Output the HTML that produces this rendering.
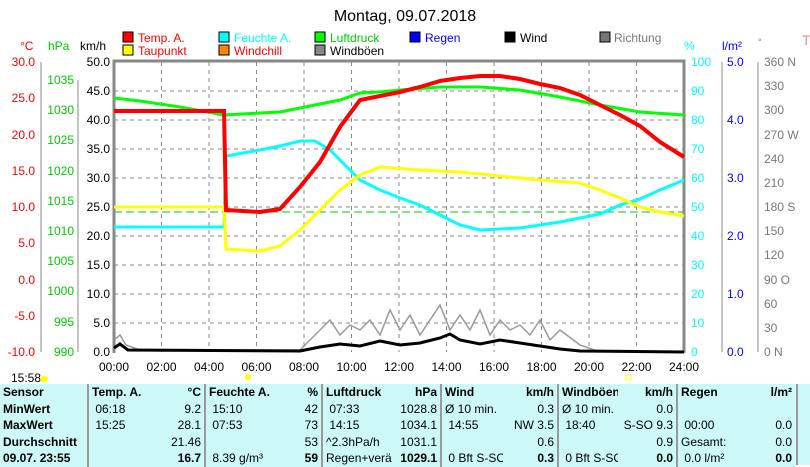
<!DOCTYPE html><html><head><style>
body{margin:0;width:810px;height:465px;background:#fff;overflow:hidden;font-family:"Liberation Sans",sans-serif;position:relative}
svg{position:absolute;left:0;top:0}
table{position:absolute;left:0;top:384px;width:795px;border-collapse:collapse;background:#ccf8f8;font-size:12px;table-layout:fixed}
td{padding:0 3px;height:16.5px;white-space:nowrap;overflow:hidden}
.b{font-weight:bold}.r{text-align:right}
.d{border-right:2px solid #999}
</style></head><body>
<svg width="810" height="465" font-family="Liberation Sans" font-size="12">
<text x="405" y="21" text-anchor="middle" font-size="16">Montag, 09.07.2018</text>
<g>
<rect x="123" y="32" width="10" height="10" fill="#f00" stroke="#000"/><text x="138" y="42" fill="#f00">Temp. A.</text>
<rect x="219" y="32" width="10" height="10" fill="#0ff" stroke="#000"/><text x="234" y="42" fill="#0ff">Feuchte A.</text>
<rect x="315" y="32" width="10" height="10" fill="#0f0" stroke="#000"/><text x="330" y="42" fill="#0c0">Luftdruck</text>
<rect x="410" y="32" width="10" height="10" fill="#00f" stroke="#000"/><text x="425" y="42" fill="#00f">Regen</text>
<rect x="505" y="32" width="10" height="10" fill="#000" stroke="#000"/><text x="520" y="42">Wind</text>
<rect x="600" y="32" width="10" height="10" fill="#777" stroke="#000"/><text x="614" y="42" fill="#777">Richtung</text>
<rect x="123" y="45" width="10" height="10" fill="#ff0" stroke="#000"/><text x="138" y="55" fill="#f00">Taupunkt</text>
<rect x="219" y="45" width="10" height="10" fill="#f80" stroke="#000"/><text x="234" y="55" fill="#f00">Windchill</text>
<rect x="315" y="45" width="10" height="10" fill="#888" stroke="#000"/><text x="330" y="55">Windböen</text>
</g>
<text x="20" y="50" fill="#f00">°C</text><text x="48" y="50" fill="#0c0">hPa</text><text x="80" y="50">km/h</text>
<text x="684" y="50" fill="#0ff">%</text><text x="722" y="50" fill="#00f">l/m²</text><text x="758" y="45" fill="#777" font-size="9">°</text>
<text x="802" y="45" fill="#f88" font-size="14">T</text>
<g stroke="#888" stroke-dasharray="4,4">
<path d="M161.5 62V352M209 62V352M256.5 62V352M304 62V352M351.5 62V352M399 62V352M446.5 62V352M494 62V352M541.5 62V352M589 62V352M636.5 62V352"/>
<path d="M114 91H684M114 120H684M114 149H684M114 178H684M114 207H684M114 236H684M114 265H684M114 294H684M114 323H684"/>
</g>
<path d="M114 212H684" stroke="#0c0" stroke-dasharray="8,4"/>
<path d="M114 353V61H684V353" fill="none" stroke="#888" stroke-width="3"/>
<g stroke="#888"><path d="M41 62V352M78 80V352M722 62V352M758 62V352"/></g>
<g fill="#f00" text-anchor="end">
<text x="35" y="66">30.0</text><text x="35" y="102">25.0</text><text x="35" y="139">20.0</text><text x="35" y="175">15.0</text><text x="35" y="211">10.0</text><text x="35" y="247">5.0</text><text x="35" y="284">0.0</text><text x="35" y="320">-5.0</text><text x="35" y="356">-10.0</text></g>
<g fill="#0c0" text-anchor="end">
<text x="74" y="84">1035</text><text x="74" y="114">1030</text><text x="74" y="144">1025</text><text x="74" y="175">1020</text><text x="74" y="205">1015</text><text x="74" y="235">1010</text><text x="74" y="265">1005</text><text x="74" y="295">1000</text><text x="74" y="326">995</text><text x="74" y="356">990</text></g>
<g text-anchor="end">
<text x="110" y="66">50.0</text><text x="110" y="95">45.0</text><text x="110" y="124">40.0</text><text x="110" y="153">35.0</text><text x="110" y="182">30.0</text><text x="110" y="211">25.0</text><text x="110" y="240">20.0</text><text x="110" y="269">15.0</text><text x="110" y="298">10.0</text><text x="110" y="327">5.0</text><text x="110" y="356">0.0</text></g>
<g fill="#0ff">
<text x="691" y="66">100</text><text x="691" y="95">90</text><text x="691" y="124">80</text><text x="691" y="153">70</text><text x="691" y="182">60</text><text x="691" y="211">50</text><text x="691" y="240">40</text><text x="691" y="269">30</text><text x="691" y="298">20</text><text x="691" y="327">10</text><text x="691" y="356">0</text></g>
<g fill="#00f"><text x="727" y="66">5.0</text><text x="727" y="124">4.0</text><text x="727" y="182">3.0</text><text x="727" y="240">2.0</text><text x="727" y="298">1.0</text><text x="727" y="356">0.0</text></g>
<g fill="#777"><text x="764" y="66">360 N</text><text x="764" y="90">330</text><text x="764" y="114">300</text><text x="764" y="139">270 W</text><text x="764" y="163">240</text><text x="764" y="187">210</text><text x="764" y="211">180 S</text><text x="764" y="235">150</text><text x="764" y="259">120</text><text x="764" y="284">90 O</text><text x="764" y="308">60</text><text x="764" y="332">30</text><text x="764" y="356">0 N</text></g>
<polyline fill="none" stroke="#999" stroke-width="1.5" points="114,340 120,335 126,345 140,350 300,350 310,340 320,330 330,320 340,335 350,325 360,330 370,320 380,335 390,310 400,330 410,315 420,335 430,320 440,305 450,330 460,315 470,330 480,310 490,335 500,320 510,330 520,325 530,335 540,320 550,340 560,330 580,345 600,352"/>
<polyline fill="none" stroke="#000" stroke-width="3" points="114,348 120,344 128,350 300,351 320,347 340,344 360,346 380,341 400,345 420,343 440,338 450,334 460,340 480,344 500,340 520,343 540,346 560,349 580,351 684,352"/>
<polyline fill="none" stroke="#0f0" stroke-width="3" points="114,98 140,101 180,107 224,115 260,113 280,112 300,108 340,100 360,93 380,92 400,90 440,87 480,87 520,90 560,97 600,105 640,112 684,115"/>
<polyline fill="none" stroke="#0ff" stroke-width="3" points="114,227 224,227 226,156 260,150 280,146 300,141 315,141 330,150 345,165 360,180 380,190 400,198 420,205 440,215 460,225 480,230 520,228 560,222 600,214 620,205 640,199 660,190 684,180"/>
<polyline fill="none" stroke="#ff0" stroke-width="3" points="114,207 224,207 226,249 260,251 280,246 300,230 320,210 340,190 360,175 380,167 420,170 460,172 500,176 540,180 580,183 600,190 620,198 640,207 660,212 684,216"/>
<polyline fill="none" stroke="#f00" stroke-width="4" points="114,111 224,111 226,210 260,212 280,209 300,187 320,162 340,127 360,100 380,96 400,92 420,87 440,81 460,78 480,76 500,76 520,79 540,84 560,88 580,95 600,105 620,115 640,126 660,142 684,157"/>
<g text-anchor="middle"><text x="114" y="371">00:00</text><text x="161.5" y="371">02:00</text><text x="209" y="371">04:00</text><text x="256.5" y="371">06:00</text><text x="304" y="371">08:00</text><text x="351.5" y="371">10:00</text><text x="399" y="371">12:00</text><text x="446.5" y="371">14:00</text><text x="494" y="371">16:00</text><text x="541.5" y="371">18:00</text><text x="589" y="371">20:00</text><text x="636.5" y="371">22:00</text><text x="684" y="371">24:00</text></g>
<text x="11" y="382">15:58</text><ellipse cx="44" cy="379" rx="4" ry="3" fill="#ff0"/>
<circle cx="248" cy="377" r="3" fill="#ff0"/><rect x="626" y="375" width="5" height="5" fill="none" stroke="#ff0"/>
<rect x="796" y="384" width="14" height="81" fill="#ccf8f8"/><path d="M797 384V465" stroke="#999" stroke-width="2"/>
</svg>
<table>
<colgroup><col style="width:88px"><col style="width:62px"><col style="width:55px"><col style="width:72px"><col style="width:45px"><col style="width:70px"><col style="width:49px"><col style="width:62px"><col style="width:55px"><col style="width:60px"><col style="width:59px"><col style="width:65px"><col style="width:53px"></colgroup>
<tr><td class="b">Sensor</td><td class="b" style="border-left:2px solid #999">Temp. A.</td><td class="b r d">°C</td><td class="b">Feuchte A.</td><td class="b r d">%</td><td class="b">Luftdruck</td><td class="b r d">hPa</td><td class="b">Wind</td><td class="b r d">km/h</td><td class="b">Windböen</td><td class="b r d">km/h</td><td class="b">Regen</td><td class="b r">l/m²</td></tr>
<tr><td class="b">MinWert</td><td style="border-left:2px solid #999">&nbsp;06:18</td><td class="r d">9.2</td><td>&nbsp;15:10</td><td class="r d">42</td><td>&nbsp;07:33</td><td class="r d">1028.8</td><td>Ø 10 min.</td><td class="r d">0.3</td><td>Ø 10 min.</td><td class="r d">0.0</td><td></td><td class="r"></td></tr>
<tr><td class="b">MaxWert</td><td style="border-left:2px solid #999">&nbsp;15:25</td><td class="r d">28.1</td><td>&nbsp;07:53</td><td class="r d">73</td><td>&nbsp;14:15</td><td class="r d">1034.1</td><td>&nbsp;14:55</td><td class="r d">NW 3.5</td><td>&nbsp;18:40</td><td class="r d">S-SO 9.3</td><td>&nbsp;00:00</td><td class="r">0.0</td></tr>
<tr><td class="b">Durchschnitt</td><td style="border-left:2px solid #999"></td><td class="r d">21.46</td><td></td><td class="r d">53</td><td>^2.3hPa/h</td><td class="r d">1031.1</td><td></td><td class="r d">0.6</td><td></td><td class="r d">0.9</td><td>Gesamt:</td><td class="r">0.0</td></tr>
<tr><td class="b">09.07. 23:55</td><td style="border-left:2px solid #999"></td><td class="b r d">16.7</td><td>&nbsp;8.39 g/m³</td><td class="b r d">59</td><td>Regen+verän</td><td class="b r d">1029.1</td><td>&nbsp;0 Bft S-SO</td><td class="b r d">0.3</td><td>&nbsp;0 Bft S-SO</td><td class="b r d">0.0</td><td>&nbsp;0.0 l/m²</td><td class="b r">0.0</td></tr>
</table>
</body></html>
